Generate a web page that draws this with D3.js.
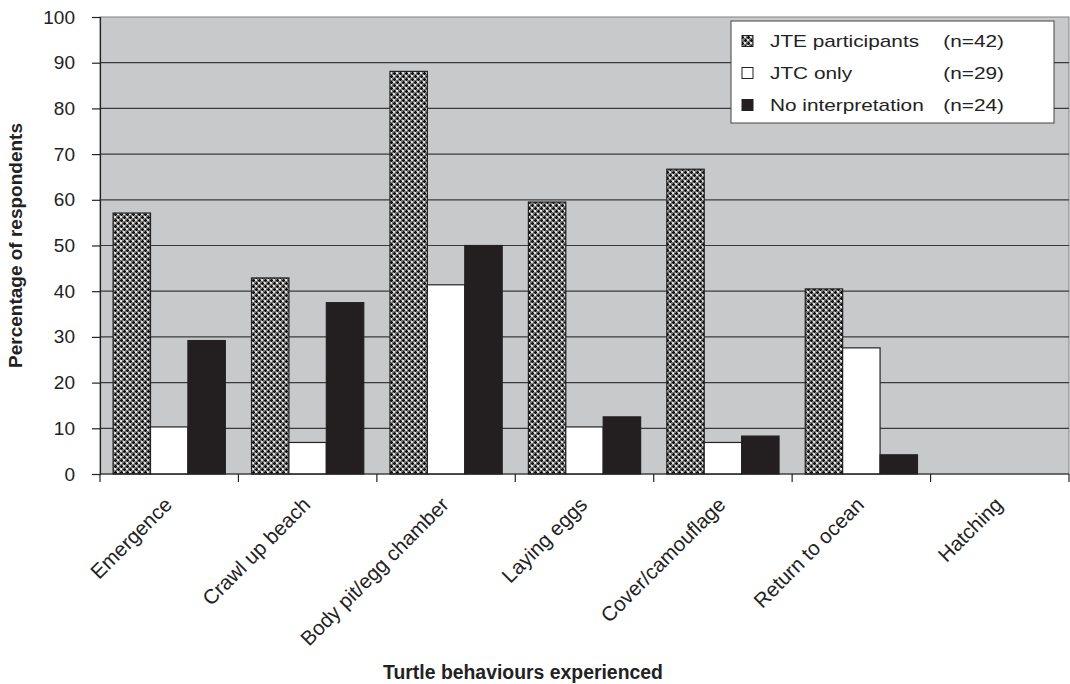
<!DOCTYPE html>
<html><head><meta charset="utf-8">
<script src="https://cdn.jsdelivr.net/npm/d3@7"></script>
<style>body{margin:0;background:#fff;} text{font-family:"Liberation Sans",Arial,sans-serif;}</style>
</head><body>
<svg id="chart" width="1070" height="684"></svg>
<script>
const categories = ["Emergence","Crawl up beach","Body pit/egg chamber","Laying eggs","Cover/camouflage","Return to ocean","Hatching"];
const seriesNames = ["JTE participants","JTC only","No interpretation"];
const seriesN = ["(n=42)","(n=29)","(n=24)"];
const jte = [57.1, 42.9, 88.1, 59.5, 66.7, 40.5, 0];
const jtc = [10.3, 6.9, 41.4, 10.3, 6.9, 27.6, 0];
const noInterp = [29.2, 37.5, 50.0, 12.5, 8.3, 4.2, 0];
const yTicks = [0,10,20,30,40,50,60,70,80,90,100];

const svg = d3.select("#chart");
const m = {left:100, top:17, right:1069, bottom:474};
const defs = svg.append("defs");
const pat = defs.append("pattern").attr("id","hatch").attr("patternUnits","userSpaceOnUse")
  .attr("width",6).attr("height",6);
pat.append("rect").attr("width",6).attr("height",6).attr("fill","#747474");
pat.append("rect").attr("x",0).attr("y",0).attr("width",2).attr("height",2).attr("fill","#e0e0e0");
pat.append("rect").attr("x",3).attr("y",3).attr("width",2).attr("height",2).attr("fill","#e0e0e0");
pat.append("path").attr("d","M4.5,0v3M3,1.5h3M1.5,3v3M0,4.5h3").attr("stroke","#111").attr("stroke-width",1);

const x = d3.scaleBand().domain(categories).range([m.left, m.right]);
const y = d3.scaleLinear().domain([0,100]).range([m.bottom, m.top]);
const inner = d3.scaleBand().domain(d3.range(3)).range([0, x.bandwidth()]).paddingOuter(0.35).paddingInner(0);

svg.append("rect").attr("x",m.left).attr("y",m.top).attr("width",m.right-m.left).attr("height",m.bottom-m.top)
  .attr("fill","#c8c9cb").attr("stroke","#808080").attr("stroke-width",1);

svg.append("g").selectAll("line").data(yTicks.filter(d=>d>0 && d<100)).join("line")
  .attr("x1",m.left).attr("x2",m.right).attr("y1",d=>y(d)).attr("y2",d=>y(d))
  .attr("stroke","#3a3a3a").attr("stroke-width",1.2);

const data = [jte, jtc, noInterp];
const fills = ["url(#hatch)","#ffffff","#231f20"];
data.forEach((vals,si)=>{
  svg.append("g").selectAll("rect").data(vals).join("rect")
    .attr("x",(d,i)=>x(categories[i])+inner(si))
    .attr("y",d=>y(d))
    .attr("width",inner.bandwidth())
    .attr("height",d=>y(0)-y(d))
    .attr("fill",fills[si])
    .attr("stroke",d=>d>0?"#222":"none").attr("stroke-width",1.2);
});

// y axis
const yAxis = svg.append("g").attr("transform",`translate(${m.left},0)`)
  .call(d3.axisLeft(y).tickValues(yTicks).tickSize(8).tickPadding(17));
yAxis.select(".domain").attr("stroke","#222").attr("stroke-width",1.2);
yAxis.selectAll(".tick line").attr("stroke","#222").attr("stroke-width",1.2);
yAxis.selectAll("text").attr("font-size",19).attr("fill","#222").attr("font-family","Liberation Sans, Arial, sans-serif");

// x axis
const xAxis = svg.append("g").attr("transform",`translate(0,${m.bottom})`);
xAxis.append("line").attr("x1",m.left).attr("x2",m.right).attr("stroke","#222").attr("stroke-width",1.2);
const bounds = categories.map(c=>x(c)).concat([m.right]);
xAxis.selectAll("line.tk").data(bounds).join("line").attr("class","tk")
  .attr("x1",d=>d).attr("x2",d=>d).attr("y1",0).attr("y2",8).attr("stroke","#222").attr("stroke-width",1.2);
xAxis.selectAll("text.lbl").data(categories).join("text").attr("class","lbl")
  .attr("transform",d=>`translate(${x(d)+x.bandwidth()/2+4},${32}) rotate(-45)`)
  .attr("text-anchor","end").attr("font-size",20.5).attr("fill","#222").text(d=>d);

svg.append("text").attr("x",523).attr("y",679).attr("text-anchor","middle")
  .attr("font-size",19.4).attr("font-weight","bold").attr("fill","#222").text("Turtle behaviours experienced");
svg.append("text").attr("transform",`translate(22,${(m.top+m.bottom)/2}) rotate(-90)`).attr("text-anchor","middle")
  .attr("font-size",19).attr("font-weight","bold").attr("fill","#222").text("Percentage of respondents");

// legend
const lg = svg.append("g");
lg.append("rect").attr("x",731).attr("y",21).attr("width",323).attr("height",102).attr("fill","#fff").attr("stroke","#444").attr("stroke-width",1);
const baseY = [47,79,111];
seriesNames.forEach((s,i)=>{
  lg.append("rect").attr("x",742).attr("y",baseY[i]-11.5).attr("width",11).attr("height",11)
    .attr("fill",fills[i]).attr("stroke","#222").attr("stroke-width",1);
  lg.append("text").attr("transform",`translate(770,${baseY[i]}) scale(1.3,1)`).attr("font-size",16).attr("fill","#222").text(s);
  lg.append("text").attr("transform",`translate(1004,${baseY[i]}) scale(1.3,1)`).attr("text-anchor","end").attr("font-size",16).attr("fill","#222").text(seriesN[i]);
});
</script>
</body></html>
